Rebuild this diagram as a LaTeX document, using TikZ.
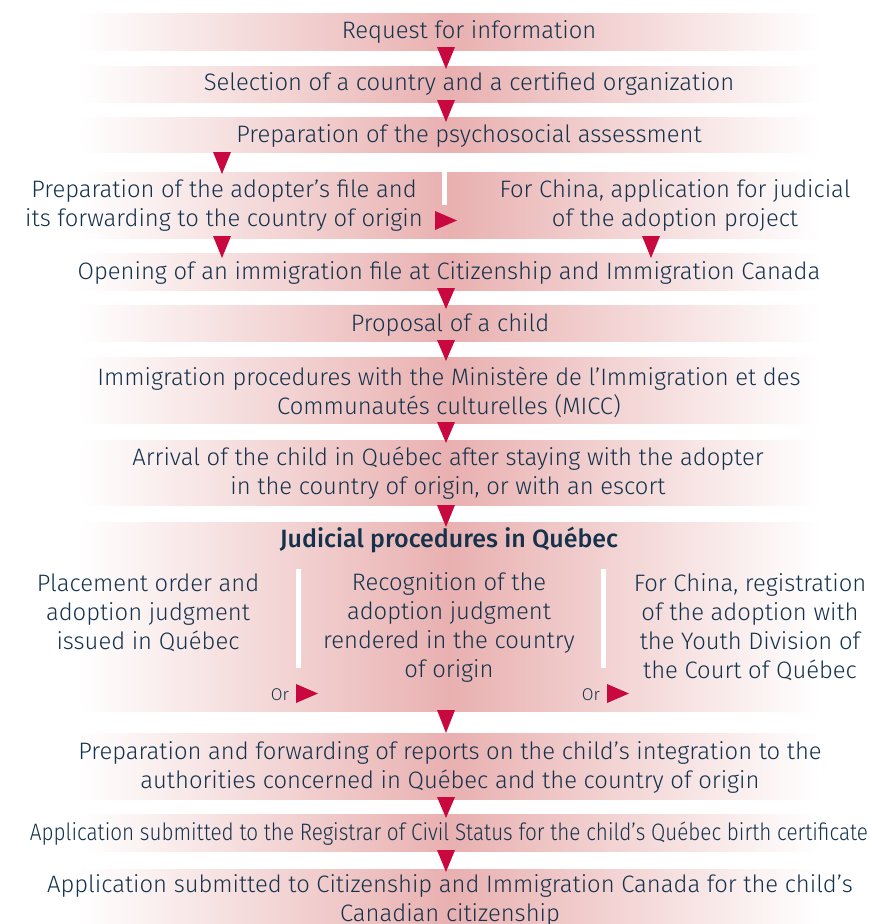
\documentclass[tikz,border=0pt]{standalone}
\usepackage{fontspec}
\setmainfont{Fira Sans Light}[BoldFont={Fira Sans Medium}]
\usepackage{graphicx}
\definecolor{navy}{RGB}{20,50,76}
\definecolor{bandpink}{RGB}{233,176,176}
\definecolor{arrowred}{RGB}{200,8,62}
\pgfdeclarehorizontalshading{bandshade}{100bp}{color(0bp)=(white); color(25bp)=(white); color(50bp)=(bandpink); color(75bp)=(white); color(100bp)=(white)}
\newcommand\DTri[3]{\fill[arrowred] (#1-9,#2) -- (#1+9,#2) -- (#1,#3) -- cycle;}
\newcommand\RTri[3]{\fill[arrowred] (#1,#2) -- (#1,#3) -- (#1+22,#2/2+#3/2) -- cycle;}
\begin{document}
\begin{tikzpicture}[x=1pt,y=-1pt,
  band/.style={shading=bandshade, draw=none},
  txt/.style={text=navy, font=\fontsize{23.8}{29}\selectfont, align=center, inner sep=0pt},
  ortxt/.style={text=navy, font=\fontsize{17}{20}\selectfont, inner sep=0pt},
  divider/.style={fill=white, draw=none}]
\useasboundingbox (0,0) rectangle (872,924);
% bands
\path[band] (80,13) rectangle (820,50);
\path[band] (80,66) rectangle (820,102);
\path[band] (80,117) rectangle (820,152);
\path[band] (80,172) rectangle (820,238);
\path[band] (80,253) rectangle (820,290);
\path[band] (80,305) rectangle (820,341);
\path[band] (80,357) rectangle (820,423);
\path[band] (80,440) rectangle (820,505);
\path[band] (80,522) rectangle (820,711);
\path[band] (80,733) rectangle (820,799);
\path[band] (80,814) rectangle (820,851);
\path[band] (80,869) rectangle (820,930);
% dividers
\path[divider] (442,172) rectangle (447,205);
\path[divider] (296,569) rectangle (301,668);
\path[divider] (601,569) rectangle (606,668);
% texts
\node[txt] (t1) at (469,32) {Request for information};
\node[txt] (t2) at (469,84) {Selection of a country and a certified organization};
\node[txt] (t3) at (469,136) {Preparation of the psychosocial assessment};
\node[txt] (t4a) at (224,205) {Preparation of the adopter’s file and\\its forwarding to the country of origin};
\node[txt] (t4b) at (675,205) {For China, application for judicial\\of the adoption project};
\node[txt] (t5) at (449,273) {Opening of an immigration file at Citizenship and Immigration Canada};
\node[txt] (t6) at (450,325) {Proposal of a child};
\node[txt] (t7) at (449,392) {Immigration procedures with the Ministère de l’Immigration et des\\Communautés culturelles (MICC)};
\node[txt] (t8) at (448,473.5) {Arrival of the child in Québec after staying with the adopter\\in the country of origin, or with an escort};
\node[txt, font=\fontsize{25}{29}\selectfont\bfseries] (t9) at (449,540) {Judicial procedures in Québec};
\node[txt] (t9a) at (148,612.5) {Placement order and\\adoption judgment\\issued in Québec};
\node[txt] (t9b) at (449,627) {Recognition of the\\adoption judgment\\rendered in the country\\of origin};
\node[txt] (t9c) at (750,627) {For China, registration\\of the adoption with\\the Youth Division of\\the Court of Québec};
\node[ortxt] (or1) at (280,695) {Or};
\node[ortxt] (or2) at (591,695) {Or};
\node[txt] (t10) at (450,767) {Preparation and forwarding of reports on the child’s integration to the\\authorities concerned in Québec and the country of origin};
\node[txt] (t11) at (449,834) {\resizebox{838pt}{\height}{Application submitted to the Registrar of Civil Status for the child’s Québec birth certificate}};
\node[txt] (t12) at (450,900.5) {Application submitted to Citizenship and Immigration Canada for the child’s\\Canadian citizenship};
% triangles
\DTri{446}{47}{69}
\DTri{446}{100}{122}
\DTri{222}{152}{174}
\DTri{222}{236}{258}
\DTri{651}{236}{258}
\RTri{435}{211}{230}
\DTri{446}{288}{309}
\DTri{446}{340}{361}
\DTri{446}{422}{443}
\DTri{446}{505}{527}
\DTri{446}{710}{733}
\DTri{446}{797}{818}
\DTri{446}{850}{872}
\RTri{296}{684}{703}
\RTri{607}{684}{703}
\end{tikzpicture}
\end{document}
